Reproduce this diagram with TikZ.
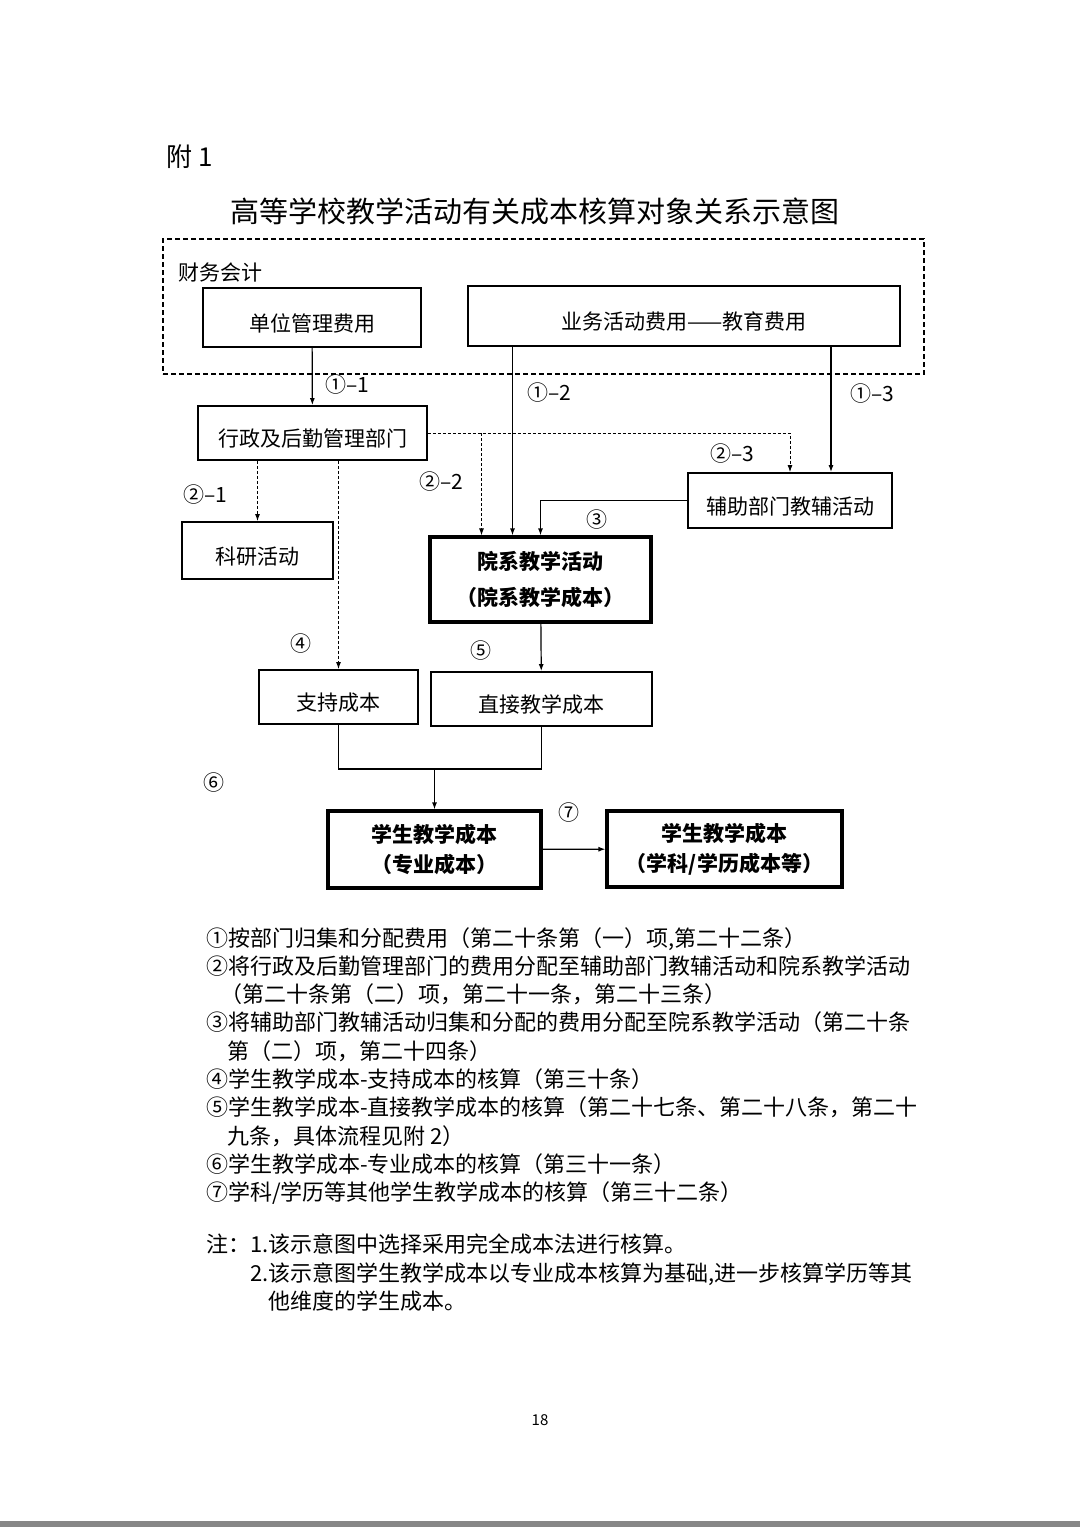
\documentclass[tikz,border=0pt]{standalone}
\usepackage{fontspec}
\setmainfont{Noto Sans CJK SC}
\usepackage{tikz}
\usetikzlibrary{arrows.meta}

\begin{document}
\begin{tikzpicture}[x=1pt, y=-1pt,
    every node/.style={font=\fontsize{21}{28.3}\selectfont},
    box/.style={draw, line width=1.8pt, inner sep=0pt, text height=31pt, text depth=4pt},
    bigbox/.style={draw, line width=3.2pt, inner sep=0pt, align=center, font=\fontsize{21}{28.3}\selectfont\bfseries},
    group/.style={draw, line width=2.2pt, dash pattern=on 5pt off 3pt, inner sep=0pt},
    flow/.style={line width=1.2pt, -{Latex[length=7pt,width=5pt]}},
    dflow/.style={line width=1pt, dash pattern=on 3pt off 2pt, -{Latex[length=7pt,width=5pt]}},
    tag/.style={inner sep=0pt},
    notetext/.style={inner sep=0pt, anchor=north west, align=left, font=\fontsize{22}{28.3}\selectfont}]

    \useasboundingbox (0,0) rectangle (1080,1527);
    \fill[black!47] (0,1521) rectangle (1080,1527);

    \node[anchor=west, font=\fontsize{26}{26}\selectfont] (annex) at (163,157) {附 1};
    \node[font=\fontsize{29}{29}\selectfont] (title) at (535,211) {高等学校教学活动有关成本核算对象关系示意图};

    % finance accounting frame
    \node[group, minimum width=761pt, minimum height=135pt] (fin) at (543.5,306.5) {};
    \node[tag, anchor=west] (finlbl) at (178,273) {财务会计};

    \node[box, minimum width=218pt, minimum height=59pt] (unit) at (312,317.5) {单位管理费用};
    \node[box, minimum width=432pt, minimum height=60pt] (biz) at (684,316) {业务活动费用——教育费用};

    \node[box, minimum width=229pt, minimum height=54pt] (admin) at (312.5,433) {行政及后勤管理部门};
    \node[box, minimum width=204pt, minimum height=55pt] (aux) at (790,500.5) {辅助部门教辅活动};
    \node[box, minimum width=151pt, minimum height=57pt] (research) at (257.5,550.5) {科研活动};
    \node[bigbox, minimum width=221pt, minimum height=85pt] (dept) at (540.5,579.5) {院系教学活动\\[8pt]（院系教学成本）};

    \node[box, minimum width=159pt, minimum height=54pt] (support) at (338.5,697) {支持成本};
    \node[box, minimum width=221pt, minimum height=54pt] (direct) at (541.5,699) {直接教学成本};

    \node[bigbox, minimum width=213pt, minimum height=77pt] (student) at (434.5,849.5) {学生教学成本\\[2pt]（专业成本）};
    \node[bigbox, minimum width=235pt, minimum height=76pt] (other) at (724.5,849) {学生教学成本\\[2pt]（学科/学历成本等）};

    % entry points on box edges
    \coordinate (auxin) at ([xshift=41pt]aux.north);
    \coordinate (deptin2) at ([xshift=-28pt]dept.north);
    \coordinate (deptin3) at ([xshift=-59pt]dept.north);
    \coordinate (join) at (434.5,769);

    \draw[flow] (unit) -- (admin);
    \draw[flow] (biz.south -| deptin2) -- (deptin2);
    \draw[flow] (biz.south -| auxin) -- (auxin);
    \draw[dflow] (admin.east) -| (aux.north);
    \draw[dflow] (admin.east -| deptin3) -- (deptin3);
    \draw[flow] (aux.west) -| (dept.north);
    \draw[dflow] (admin.south -| research.north) -- (research.north);
    \draw[dflow] (admin.south -| support.north) -- (support.north);
    \draw[flow] (dept) -- (direct);
    \draw[line width=1.2pt] (support.south) |- (join) -| (direct.south);
    \draw[flow] (join) -- (student.north);
    \draw[flow] (student) -- (other);

    \node[tag] (l11) at (347,385) {①–1};
    \node[tag] (l12) at (549,393) {①–2};
    \node[tag] (l13) at (872,394) {①–3};
    \node[tag] (l23) at (732,454) {②–3};
    \node[tag] (l22) at (441,482) {②–2};
    \node[tag] (l21) at (205,495) {②–1};
    \node[tag] (l3) at (597,520) {③};
    \node[tag] (l4) at (301,644) {④};
    \node[tag] (l5) at (481,651) {⑤};
    \node[tag] (l6) at (214,783) {⑥};
    \node[tag] (l7) at (569,813) {⑦};

    % legend
    \node[notetext] (legend) at (206,927) {①按部门归集和分配费用（第二十条第（一）项,第二十二条）\\
    ②将行政及后勤管理部门的费用分配至辅助部门教辅活动和院系教学活动\\
    \hspace*{14pt}（第二十条第（二）项，第二十一条，第二十三条）\\
    ③将辅助部门教辅活动归集和分配的费用分配至院系教学活动（第二十条\\
    \hspace*{21pt}第（二）项，第二十四条）\\
    ④学生教学成本-支持成本的核算（第三十条）\\
    ⑤学生教学成本-直接教学成本的核算（第二十七条、第二十八条，第二十\\
    \hspace*{21pt}九条，具体流程见附 2）\\
    ⑥学生教学成本-专业成本的核算（第三十一条）\\
    ⑦学科/学历等其他学生教学成本的核算（第三十二条）};

    \node[notetext] (notes) at (206,1234) {注：1.该示意图中选择采用完全成本法进行核算。\\
    \hspace*{44pt}2.该示意图学生教学成本以专业成本核算为基础,进一步核算学历等其\\
    \hspace*{44pt}\phantom{2.}他维度的学生成本。};

    \node[font=\fontsize{15}{15}\selectfont] (page) at (540,1420) {18};

\end{tikzpicture}
\end{document}
